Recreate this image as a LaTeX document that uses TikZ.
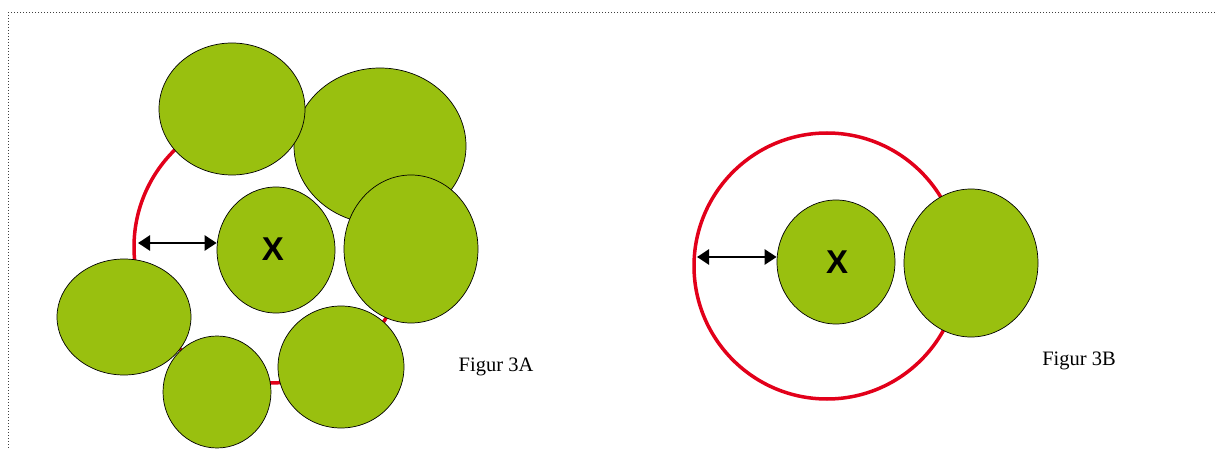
\documentclass[tikz,border=0pt]{standalone}
\usepackage{fontspec}
\setmainfont{Liberation Serif}
\newfontfamily\xfont{Liberation Sans}
\usetikzlibrary{shapes.geometric,arrows.meta}
\definecolor{leaf}{RGB}{153,192,15}
\definecolor{ring}{RGB}{226,0,26}
\begin{document}
\begin{tikzpicture}[x=1pt,y=-1pt,
  blob/.style={ellipse, draw=black, line width=0.7pt, fill=leaf, inner sep=0pt},
  ringc/.style={circle, draw=ring, line width=3.5pt, inner sep=0pt},
  dist/.style={{Triangle[length=12pt,width=15pt]}-{Triangle[length=12pt,width=15pt]}, line width=2.5pt, black},
  lab/.style={font=\fontsize{20.5}{24}\selectfont},
  xlab/.style={font=\xfont\bfseries\fontsize{33}{36}\selectfont}]
\useasboundingbox (0,0) rectangle (1215,449);
\coordinate (bt) at (1215,13);
\coordinate (bc) at (8,13);
\coordinate (bb) at (8,449);
\draw[dotted, black!75, line width=1pt] (bt) -- (bc) -- (bb);
% Figure 3A
\node[ringc, minimum size=272pt] (r1) at (270,247) {};
\node[blob, minimum width=172pt, minimum height=156pt] (a2) at (380,146) {};
\node[blob, minimum width=146pt, minimum height=132pt] (a1) at (232,109) {};
\node[blob, minimum width=118pt, minimum height=126pt] (x1) at (276,250) {};
\node[xlab] (x1t) at (273,249) {X};
\node[blob, minimum width=134pt, minimum height=148pt] (a4) at (411,249) {};
\node[blob, minimum width=134pt, minimum height=116pt] (a5) at (124,317) {};
\node[blob, minimum width=126pt, minimum height=122pt] (a7) at (341,367) {};
\node[blob, minimum width=108pt, minimum height=112pt] (a6) at (217,392) {};
\coordinate (p1) at (138,243);
\draw[dist] (p1) -- (p1 -| x1.west);
\node[lab] (f3a) at (496,367) {Figur 3A};
% Figure 3B
\node[ringc, minimum size=266pt] (r2) at (827,266) {};
\node[blob, minimum width=118pt, minimum height=124pt] (x2) at (836,262) {};
\node[xlab] (x2t) at (837,262) {X};
\node[blob, minimum width=134pt, minimum height=148pt] (b1) at (971,263) {};
\coordinate (p2) at (697,257);
\draw[dist] (p2) -- (p2 -| x2.west);
\node[lab] (f3b) at (1079,361) {Figur 3B};
\end{tikzpicture}
\end{document}
